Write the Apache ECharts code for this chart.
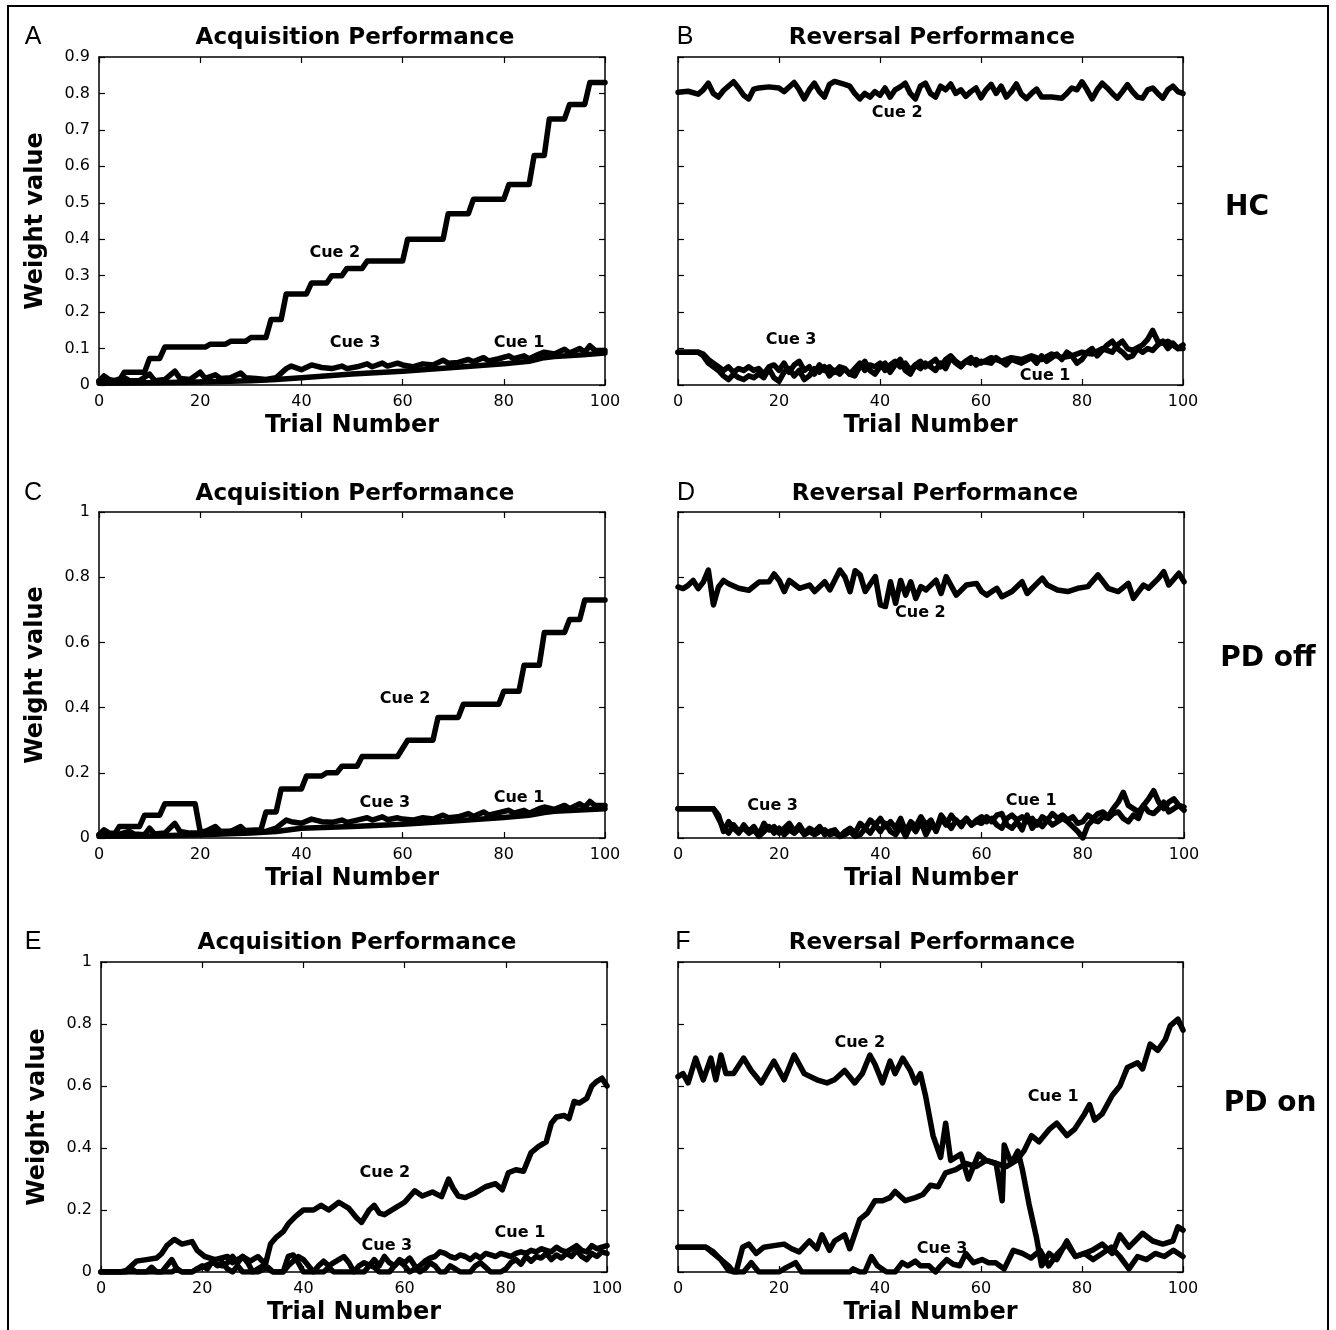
<!DOCTYPE html>
<html><head><meta charset="utf-8">
<script src="https://cdn.jsdelivr.net/npm/echarts@6/dist/echarts.min.js"></script>
<style>html,body{margin:0;padding:0;background:#fff}#c{width:1336px;height:1330px}</style>
</head><body><div id="c"></div>
<script>
// ---------- data (trial number, weight value) ----------
const trialTicks = [0, 20, 40, 60, 80, 100];
const cueNames = ['Cue 1', 'Cue 2', 'Cue 3'];

// Panel A – HC acquisition
const A_cue1 = [[0,0.005],[10,0.006],[20,0.008],[30,0.012],[35,0.015],[40,0.02],[50,0.03],[60,0.038],[70,0.048],[80,0.058],[85,0.065],[88,0.075],[90,0.078],[95,0.082],[100,0.088]];
const A_cue2 = [[0,0.012],[4,0.012],[5,0.035],[9,0.035],[10,0.073],[12,0.073],[13,0.104],[21,0.104],[22,0.112],[25,0.112],[26,0.12],[29,0.12],[30,0.13],[33,0.13],[34,0.18],[36,0.18],[37,0.25],[41,0.25],[42,0.28],[45,0.28],[46,0.30],[48,0.30],[49,0.32],[52,0.32],[53,0.34],[60,0.34],[61,0.40],[68,0.40],[69,0.47],[73,0.47],[74,0.51],[80,0.51],[81,0.55],[85,0.55],[86,0.63],[88,0.63],[89,0.73],[92,0.73],[93,0.77],[96,0.77],[97,0.83],[100,0.83]];
const A_cue3 = [[0,0.01],[1,0.025],[2,0.015],[3,0.012],[5,0.02],[6,0.012],[8,0.012],[10,0.03],[11,0.012],[13,0.015],[15,0.038],[16,0.018],[18,0.015],[20,0.035],[21,0.018],[23,0.028],[24,0.018],[26,0.02],[28,0.033],[29,0.02],[31,0.018],[33,0.015],[35,0.02],[37,0.045],[38,0.052],[40,0.042],[42,0.055],[44,0.048],[46,0.045],[48,0.052],[49,0.045],[51,0.05],[53,0.058],[54,0.05],[56,0.06],[57,0.052],[59,0.06],[60,0.055],[62,0.05],[64,0.058],[66,0.055],[68,0.068],[69,0.06],[71,0.062],[73,0.07],[74,0.064],[76,0.075],[77,0.066],[79,0.072],[81,0.08],[82,0.072],[84,0.08],[85,0.072],[87,0.085],[88,0.09],[90,0.085],[92,0.098],[93,0.088],[95,0.1],[96,0.09],[97,0.108],[98,0.095],[100,0.095]];

// Panel B – HC reversal
const B_cue1 = [[0,0.09],[4,0.09],[5,0.08],[6,0.06],[8,0.04],[9,0.025],[10,0.015],[11,0.03],[12,0.02],[13,0.015],[14,0.025],[15,0.02],[16,0.03],[17,0.02],[18,0.045],[19,0.02],[20,0.01],[21,0.035],[22,0.045],[23,0.025],[24,0.04],[25,0.015],[26,0.025],[27,0.045],[28,0.035],[29,0.05],[30,0.025],[31,0.04],[32,0.03],[33,0.045],[34,0.03],[35,0.025],[36,0.05],[37,0.065],[38,0.04],[39,0.03],[40,0.05],[41,0.06],[42,0.035],[43,0.055],[44,0.07],[45,0.04],[46,0.03],[47,0.055],[48,0.045],[49,0.06],[50,0.05],[51,0.04],[52,0.06],[53,0.045],[54,0.075],[55,0.06],[56,0.05],[57,0.065],[58,0.075],[59,0.055],[60,0.065],[62,0.06],[63,0.075],[65,0.055],[66,0.07],[68,0.06],[70,0.075],[71,0.06],[72,0.08],[73,0.065],[74,0.075],[75,0.085],[76,0.07],[77,0.09],[78,0.08],[79,0.06],[80,0.07],[81,0.09],[82,0.1],[83,0.08],[84,0.095],[85,0.11],[86,0.12],[87,0.1],[88,0.09],[89,0.075],[90,0.08],[91,0.1],[92,0.09],[93,0.1],[94,0.095],[95,0.11],[96,0.12],[97,0.1],[98,0.115],[99,0.1],[100,0.11]];
const B_cue2 = [[0,0.803],[2,0.806],[4,0.798],[5,0.81],[6,0.828],[7,0.80],[8,0.79],[9,0.808],[11,0.832],[12,0.815],[13,0.795],[14,0.785],[15,0.812],[16,0.815],[18,0.818],[20,0.815],[21,0.805],[23,0.83],[24,0.81],[25,0.785],[26,0.81],[27,0.828],[28,0.805],[29,0.79],[30,0.825],[31,0.833],[33,0.825],[34,0.82],[35,0.8],[36,0.785],[37,0.8],[38,0.79],[39,0.805],[40,0.795],[41,0.815],[42,0.79],[43,0.81],[44,0.818],[45,0.828],[46,0.8],[47,0.785],[48,0.82],[49,0.828],[50,0.8],[51,0.79],[52,0.82],[53,0.81],[54,0.826],[55,0.8],[56,0.81],[57,0.792],[58,0.805],[59,0.815],[60,0.788],[61,0.81],[62,0.825],[63,0.8],[64,0.82],[65,0.79],[66,0.805],[67,0.826],[68,0.798],[69,0.786],[70,0.8],[71,0.812],[72,0.79],[74,0.79],[76,0.787],[77,0.8],[78,0.815],[79,0.81],[80,0.832],[81,0.81],[82,0.785],[83,0.81],[84,0.828],[85,0.815],[86,0.8],[87,0.787],[88,0.805],[89,0.824],[90,0.805],[91,0.79],[92,0.787],[93,0.81],[94,0.815],[95,0.8],[96,0.787],[97,0.81],[98,0.82],[99,0.805],[100,0.8]];
const B_cue3 = [[0,0.09],[4,0.09],[5,0.085],[6,0.07],[7,0.06],[8,0.05],[9,0.04],[10,0.05],[11,0.035],[12,0.045],[13,0.04],[14,0.05],[15,0.04],[16,0.045],[17,0.03],[18,0.05],[19,0.055],[20,0.04],[21,0.06],[22,0.035],[23,0.055],[24,0.065],[25,0.04],[26,0.05],[27,0.03],[28,0.055],[29,0.04],[30,0.05],[31,0.035],[32,0.05],[33,0.045],[34,0.03],[35,0.045],[36,0.06],[37,0.04],[38,0.055],[39,0.05],[40,0.06],[41,0.04],[42,0.055],[43,0.065],[44,0.05],[45,0.06],[46,0.04],[47,0.055],[48,0.065],[49,0.05],[50,0.06],[51,0.07],[52,0.05],[53,0.07],[54,0.08],[55,0.065],[56,0.055],[57,0.065],[58,0.06],[59,0.07],[60,0.06],[62,0.075],[64,0.065],[66,0.075],[68,0.07],[70,0.08],[72,0.07],[74,0.085],[76,0.075],[78,0.08],[80,0.09],[82,0.085],[84,0.1],[86,0.09],[87,0.11],[88,0.12],[89,0.1],[90,0.095],[92,0.11],[93,0.125],[94,0.15],[95,0.12],[96,0.115],[97,0.12],[98,0.11],[99,0.1],[100,0.1]];

// Panel C – PD off acquisition
const C_cue1 = [[0,0.005],[10,0.006],[20,0.01],[30,0.015],[35,0.02],[40,0.03],[50,0.035],[60,0.042],[70,0.052],[80,0.063],[85,0.07],[88,0.078],[90,0.082],[95,0.086],[100,0.09]];
const C_cue2 = [[0,0.01],[3,0.01],[4,0.035],[8,0.035],[9,0.07],[12,0.07],[13,0.105],[19,0.105],[20,0.02],[25,0.02],[32,0.025],[33,0.08],[35,0.08],[36,0.15],[40,0.15],[41,0.19],[44,0.19],[45,0.20],[47,0.20],[48,0.22],[51,0.22],[52,0.25],[59,0.25],[61,0.30],[66,0.30],[67,0.37],[71,0.37],[72,0.41],[79,0.41],[80,0.45],[83,0.45],[84,0.53],[87,0.53],[88,0.63],[92,0.63],[93,0.67],[95,0.67],[96,0.73],[100,0.73]];
const C_cue3 = [[0,0.01],[1,0.025],[2,0.015],[4,0.012],[6,0.02],[7,0.012],[9,0.01],[10,0.03],[11,0.012],[13,0.015],[15,0.045],[16,0.02],[18,0.015],[20,0.015],[21,0.02],[23,0.035],[24,0.02],[26,0.02],[28,0.035],[29,0.02],[31,0.02],[33,0.02],[35,0.03],[37,0.055],[38,0.05],[40,0.045],[42,0.058],[44,0.05],[46,0.048],[48,0.055],[49,0.048],[51,0.055],[53,0.062],[54,0.055],[56,0.065],[57,0.056],[59,0.062],[60,0.058],[62,0.055],[64,0.062],[66,0.058],[68,0.07],[69,0.062],[71,0.065],[73,0.075],[74,0.066],[76,0.08],[77,0.07],[79,0.078],[81,0.085],[82,0.076],[84,0.085],[85,0.076],[87,0.09],[88,0.095],[90,0.088],[92,0.1],[93,0.09],[95,0.105],[96,0.095],[97,0.112],[98,0.1],[100,0.1]];

// Panel D – PD off reversal
const D_cue1 = [[0,0.09],[7,0.09],[8,0.06],[9,0.03],[10,0.015],[11,0.04],[12,0.02],[13,0.03],[14,0.015],[15,0.025],[16,0.005],[17,0.02],[18,0.035],[19,0.015],[20,0.03],[21,0.01],[22,0.025],[23,0.015],[24,0.03],[25,0.01],[26,0.02],[27,0.01],[28,0.02],[29,0.025],[30,0.01],[31,0.015],[32,0.005],[33,0.01],[34,0.02],[35,0.005],[36,0.01],[37,0.03],[38,0.015],[39,0.04],[40,0.02],[41,0.045],[42,0.02],[43,0.01],[44,0.035],[45,0.005],[46,0.04],[47,0.02],[48,0.05],[49,0.01],[50,0.04],[51,0.025],[52,0.07],[53,0.05],[54,0.03],[55,0.055],[56,0.035],[57,0.06],[58,0.04],[59,0.05],[60,0.045],[61,0.065],[62,0.05],[63,0.07],[64,0.075],[65,0.04],[66,0.03],[67,0.05],[68,0.025],[69,0.07],[70,0.03],[71,0.05],[72,0.035],[73,0.055],[74,0.04],[75,0.05],[76,0.06],[77,0.05],[78,0.035],[79,0.02],[80,0.0],[81,0.04],[82,0.055],[83,0.05],[84,0.065],[85,0.06],[86,0.075],[87,0.08],[88,0.06],[89,0.05],[90,0.07],[91,0.06],[92,0.1],[93,0.08],[94,0.075],[95,0.09],[96,0.11],[97,0.08],[98,0.09],[99,0.1],[100,0.085]];
const D_cue2 = [[0,0.77],[1,0.765],[2,0.775],[3,0.79],[4,0.765],[5,0.785],[6,0.822],[7,0.715],[8,0.77],[9,0.79],[10,0.78],[12,0.766],[14,0.76],[16,0.785],[18,0.786],[19,0.81],[20,0.79],[21,0.756],[22,0.79],[24,0.766],[26,0.776],[27,0.756],[29,0.786],[30,0.761],[32,0.822],[33,0.80],[34,0.756],[35,0.82],[36,0.807],[37,0.756],[39,0.802],[40,0.715],[41,0.71],[42,0.786],[43,0.72],[44,0.79],[45,0.745],[46,0.786],[47,0.735],[48,0.771],[49,0.761],[51,0.791],[52,0.75],[53,0.802],[55,0.745],[57,0.776],[59,0.781],[60,0.756],[61,0.745],[63,0.766],[64,0.74],[66,0.756],[68,0.786],[69,0.75],[70,0.766],[72,0.797],[73,0.776],[75,0.761],[77,0.756],[79,0.766],[81,0.771],[83,0.807],[85,0.766],[87,0.756],[89,0.781],[90,0.735],[92,0.776],[93,0.766],[95,0.797],[96,0.817],[97,0.776],[99,0.812],[100,0.786]];
const D_cue3 = [[0,0.09],[7,0.09],[8,0.07],[9,0.02],[10,0.05],[11,0.03],[12,0.015],[13,0.04],[14,0.02],[15,0.035],[16,0.01],[17,0.045],[18,0.025],[19,0.035],[20,0.015],[21,0.03],[22,0.045],[23,0.02],[24,0.04],[25,0.015],[26,0.03],[27,0.02],[28,0.035],[29,0.01],[30,0.02],[31,0.025],[32,0.005],[33,0.02],[34,0.03],[35,0.015],[36,0.045],[37,0.03],[38,0.055],[39,0.04],[40,0.06],[41,0.035],[42,0.05],[43,0.03],[44,0.06],[45,0.02],[46,0.05],[47,0.035],[48,0.065],[49,0.04],[50,0.055],[51,0.02],[52,0.06],[53,0.04],[54,0.07],[55,0.05],[56,0.045],[57,0.06],[58,0.04],[59,0.055],[60,0.065],[61,0.05],[62,0.06],[63,0.04],[64,0.03],[65,0.06],[66,0.07],[67,0.055],[68,0.065],[69,0.05],[70,0.06],[71,0.04],[72,0.065],[73,0.055],[74,0.075],[75,0.06],[76,0.07],[77,0.055],[78,0.065],[79,0.045],[80,0.05],[81,0.07],[82,0.06],[83,0.075],[84,0.08],[85,0.065],[86,0.09],[87,0.11],[88,0.14],[89,0.1],[90,0.09],[91,0.08],[92,0.1],[93,0.12],[94,0.145],[95,0.11],[96,0.09],[97,0.11],[98,0.12],[99,0.1],[100,0.095]];

// Panel E – PD on acquisition
const E_cue1 = [[0,0],[5,0],[6,0.01],[7,0],[9,0],[10,0.015],[11,0],[14,0],[15,0.01],[16,0],[18,0],[19,0.01],[20,0.015],[22,0.03],[24,0.02],[25,0.03],[26,0.05],[27,0.03],[28,0.05],[29,0.03],[30,0],[31,0],[33,0.015],[34,0],[36,0],[37,0.02],[39,0.05],[40,0.04],[41,0.02],[42,0],[44,0],[45,0.015],[46,0],[50,0],[51,0.02],[52,0.03],[54,0.015],[55,0],[57,0],[58,0.02],[59,0.035],[60,0.02],[61,0],[63,0.02],[64,0.035],[65,0.045],[66,0.05],[67,0.065],[68,0.06],[69,0.05],[70,0.045],[71,0.055],[72,0.05],[73,0.04],[74,0.055],[75,0.045],[76,0.06],[77,0.055],[78,0.05],[79,0.06],[80,0.055],[81,0.05],[82,0.06],[83,0.065],[84,0.06],[85,0.07],[86,0.065],[87,0.075],[88,0.07],[89,0.065],[90,0.08],[91,0.07],[92,0.065],[93,0.075],[94,0.085],[95,0.07],[96,0.065],[97,0.085],[98,0.075],[99,0.08],[100,0.085]];
const E_cue2 = [[0,0],[4,0],[5,0.005],[7,0.035],[9,0.04],[11,0.045],[12,0.06],[13,0.085],[14.5,0.105],[16,0.09],[18,0.098],[19,0.07],[20.5,0.05],[22.5,0.04],[25,0.05],[26,0.03],[28,0.05],[29.5,0.035],[31,0.05],[32.5,0.025],[33.5,0.09],[34.5,0.11],[36,0.13],[37,0.155],[38.5,0.18],[40,0.2],[42,0.2],[43.5,0.215],[45,0.2],[47,0.225],[49,0.205],[50.5,0.175],[51.5,0.16],[53,0.2],[54,0.215],[55,0.19],[56,0.185],[58,0.205],[60,0.225],[62,0.262],[63.5,0.245],[65.5,0.258],[67.3,0.243],[68.7,0.3],[69.6,0.27],[70.6,0.245],[72,0.24],[74,0.255],[76,0.275],[78,0.285],[79.3,0.265],[80.5,0.32],[82,0.33],[83.5,0.325],[85,0.385],[86.5,0.405],[88,0.42],[89,0.48],[90,0.5],[91.5,0.505],[92.5,0.495],[93.5,0.55],[94.5,0.545],[96,0.56],[97,0.6],[98,0.615],[99,0.625],[100,0.6]];
const E_cue3 = [[0,0],[12,0],[13,0.02],[14,0.04],[15,0.01],[16,0],[18,0],[19,0.01],[20,0.02],[21,0.01],[22,0.035],[23,0.02],[24,0.03],[25,0.01],[26,0],[27,0.02],[28,0],[30,0],[31,0.01],[32,0.02],[33,0.01],[34,0],[36,0],[37,0.05],[38,0.055],[39,0.03],[40,0],[42,0],[43,0.02],[44,0.035],[45,0.02],[46,0.03],[47,0.04],[48,0.05],[49,0.03],[50,0],[52,0],[53,0.02],[54,0.04],[55,0.02],[56,0.05],[57,0.03],[58,0.02],[59,0.04],[60,0.03],[61,0.045],[62,0.02],[63,0],[64,0.01],[65,0.03],[66,0.02],[67,0],[68,0],[69,0.02],[70,0.01],[71,0],[73,0],[74,0.02],[75,0.03],[76,0.015],[77,0],[79,0],[80,0.01],[81,0.03],[82,0.04],[83,0.025],[84,0.05],[85,0.035],[86,0.05],[87,0.045],[88,0.06],[89,0.04],[90,0.055],[91,0.045],[92,0.06],[93,0.05],[94,0.07],[95,0.05],[96,0.04],[97,0.06],[98,0.05],[99,0.065],[100,0.06]];

// Panel F – PD on reversal
const F_cue1 = [[0,0.08],[5.5,0.08],[7,0.06],[8.5,0.04],[10,0.005],[11.5,0],[12.8,0.08],[14,0.09],[15.5,0.06],[17,0.08],[19,0.085],[21,0.09],[22.5,0.075],[24,0.065],[26,0.10],[27.5,0.075],[28.5,0.12],[30,0.07],[31,0.10],[33,0.12],[34,0.075],[36,0.17],[37.5,0.19],[39,0.23],[40.5,0.23],[42,0.24],[43,0.26],[45,0.23],[47,0.24],[48.5,0.25],[50,0.28],[51.5,0.275],[53,0.32],[55,0.33],[57,0.35],[59,0.34],[61,0.36],[63,0.35],[65,0.34],[67,0.36],[68.5,0.39],[70,0.44],[71.5,0.42],[73.5,0.46],[75,0.48],[77,0.44],[78.5,0.46],[80.5,0.51],[81.5,0.54],[82.5,0.49],[84,0.51],[86,0.57],[87.5,0.60],[89,0.66],[91,0.675],[92,0.655],[93.5,0.735],[95,0.715],[96.5,0.75],[97.5,0.795],[99,0.816],[100,0.78]];
const F_cue2 = [[0,0.63],[1,0.64],[2,0.61],[3.5,0.69],[5,0.62],[6.5,0.69],[7.5,0.62],[8.5,0.70],[9.5,0.64],[11,0.64],[13,0.69],[14.5,0.65],[16.5,0.61],[19,0.68],[21,0.62],[23,0.70],[25,0.64],[27.5,0.62],[29.5,0.61],[31,0.62],[33,0.65],[35,0.61],[36.5,0.64],[38,0.70],[39,0.67],[40.5,0.61],[42,0.68],[43,0.64],[44.5,0.69],[46,0.65],[47,0.61],[48,0.64],[49,0.57],[50.5,0.44],[52,0.37],[53,0.48],[54,0.36],[56,0.38],[57.5,0.30],[59.5,0.38],[61,0.36],[63,0.35],[64.2,0.23],[64.6,0.41],[66,0.35],[67.3,0.39],[68.2,0.33],[69.5,0.22],[71,0.11],[72,0.02],[73.5,0.06],[75,0.04],[77,0.10],[78.7,0.05],[80.5,0.06],[82,0.07],[84,0.09],[86,0.06],[87.5,0.12],[89.3,0.08],[92,0.125],[94,0.10],[96,0.09],[98,0.10],[99,0.146],[100,0.135]];
const F_cue3 = [[0,0.08],[5.5,0.08],[7,0.065],[8.5,0.04],[10,0.02],[11,0],[13,0],[14.5,0.03],[16,0],[20,0],[21.5,0.015],[23.3,0.03],[24.5,0],[34,0],[34.7,0.01],[36,0],[37,0],[38.3,0.05],[39.5,0.02],[41.3,0],[43,0],[44.4,0.03],[45.5,0.02],[47,0.035],[48,0.02],[49.7,0.02],[51,0],[52,0.02],[53.2,0.04],[54.5,0.025],[55.8,0.02],[57,0.06],[58.5,0.03],[60.2,0.04],[61.5,0.03],[62.9,0.03],[64.6,0.01],[66.4,0.07],[68.2,0.06],[69.9,0.045],[71.7,0.07],[73.4,0.02],[75.2,0.06],[77,0.09],[78.7,0.05],[80.5,0.06],[82.2,0.04],[84,0.06],[85.8,0.08],[87.5,0.05],[89.3,0.01],[91,0.05],[92.8,0.04],[94.5,0.06],[96.3,0.05],[98.1,0.07],[100,0.05]];

// ---------- annotations (label anchor in data coords) ----------
const cueLabelAnchors = {
  A: [[83.0,0.115],[46.6,0.362],[50.6,0.115]],
  B: [[72.7,0.025],[43.4,0.746],[22.4,0.123]],
  C: [[83.0,0.123],[60.5,0.426],[56.5,0.107]],
  D: [[69.8,0.113],[47.9,0.69],[18.7,0.098]],
  E: [[82.8,0.126],[56.1,0.32],[56.5,0.084]],
  F: [[74.3,0.565],[36.0,0.739],[52.3,0.074]]
};
const panelTitles = ['Acquisition Performance','Reversal Performance'];
const rowLabels = ['HC','PD off','PD on'];

// ---------- layout ----------
const FONT = 'DejaVu Sans';
const panels = [
  {key:'A', grid:{left:99, top:57, width:506, height:328}, ymax:0.9, yint:0.1, left:true, data:[A_cue1,A_cue2,A_cue3], title:[355,38], letter:[33,37]},
  {key:'B', grid:{left:678, top:57, width:505, height:328}, ymax:0.9, yint:0.1, left:false, data:[B_cue1,B_cue2,B_cue3], title:[932,38], letter:[685,37]},
  {key:'C', grid:{left:99, top:512, width:506, height:326}, ymax:1, yint:0.2, left:true, data:[C_cue1,C_cue2,C_cue3], title:[355,494], letter:[33,493]},
  {key:'D', grid:{left:678, top:512, width:506, height:326}, ymax:1, yint:0.2, left:false, data:[D_cue1,D_cue2,D_cue3], title:[935,494], letter:[686,493]},
  {key:'E', grid:{left:101, top:962, width:506, height:310}, ymax:1, yint:0.2, left:true, data:[E_cue1,E_cue2,E_cue3], title:[357,943], letter:[33,942]},
  {key:'F', grid:{left:678, top:962, width:505, height:310}, ymax:1, yint:0.2, left:false, data:[F_cue1,F_cue2,F_cue3], title:[932,943], letter:[683,942]}
];
const rowLabelPos = [[1247,208],[1268,659],[1270,1104]];

const grids = [], xAxes = [], yAxes = [], series = [], graphics = [];
const axLine = {show:true, onZero:false, lineStyle:{color:'#000', width:1.5}};
const axTick = {show:true, inside:true, length:6, lineStyle:{color:'#000', width:1.2}};

panels.forEach((p, i) => {
  grids.push(Object.assign({containLabel:false, show:false}, p.grid));
  xAxes.push({gridIndex:i, type:'value', min:0, max:100, interval:20, position:'bottom',
    axisLine:axLine, axisTick:axTick, splitLine:{show:false},
    axisLabel:{color:'#000', fontSize:16, fontFamily:FONT, margin:9},
    name:'Trial Number', nameLocation:'middle', nameGap:29,
    nameTextStyle:{color:'#000', fontSize:24, fontWeight:'bold', fontFamily:FONT}});
  xAxes.push({gridIndex:i, type:'value', min:0, max:100, interval:20, position:'top',
    axisLine:axLine, axisTick:axTick, splitLine:{show:false}, axisLabel:{show:false}});
  const yl = {gridIndex:i, type:'value', min:0, max:p.ymax, interval:p.yint, position:'left',
    axisLine:axLine, axisTick:axTick, splitLine:{show:false},
    axisLabel:{show:p.left, color:'#000', fontSize:16, fontFamily:FONT, margin:9}};
  if (p.left) {
    Object.assign(yl, {name:'Weight value', nameLocation:'middle', nameGap:51,
      nameTextStyle:{color:'#000', fontSize:24, fontWeight:'bold', fontFamily:FONT}});
  }
  yAxes.push(yl);
  yAxes.push({gridIndex:i, type:'value', min:0, max:p.ymax, interval:p.yint, position:'right',
    axisLine:axLine, axisTick:axTick, splitLine:{show:false}, axisLabel:{show:false}});

  p.data.forEach((d, k) => {
    series.push({type:'line', name:p.key + ' ' + cueNames[k], xAxisIndex:2*i, yAxisIndex:2*i,
      data:d, showSymbol:false, symbol:'none', silent:true, z:2,
      lineStyle:{color:'#000', width:5.5, join:'round', cap:'round', opacity:1}});
  });
  series.push({type:'scatter', xAxisIndex:2*i, yAxisIndex:2*i, symbolSize:0, silent:true, z:5,
    itemStyle:{opacity:1, color:'#000'},
    data: cueLabelAnchors[p.key].map((v, k) => ({name:cueNames[k], value:v})),
    label:{show:true, position:'inside', formatter:'{b}', color:'#000', opacity:1, fontSize:16,
      fontWeight:'bold', fontFamily:FONT}});

  graphics.push({type:'text', x:p.title[0], y:p.title[1], style:{text:panelTitles[i % 2],
    fill:'#000', font:'bold 23px "' + FONT + '"', textAlign:'center', textVerticalAlign:'middle'}});
  graphics.push({type:'text', x:p.letter[0], y:p.letter[1], style:{text:p.key,
    fill:'#000', font:'25px "Liberation Sans"', textAlign:'center', textVerticalAlign:'middle'}});
});

rowLabels.forEach((t, r) => {
  graphics.push({type:'text', x:rowLabelPos[r][0], y:rowLabelPos[r][1], style:{text:t,
    fill:'#000', font:'bold 28px "' + FONT + '"', textAlign:'center', textVerticalAlign:'middle'}});
});
graphics.push({type:'rect', shape:{x:8, y:6, width:1320, height:1340},
  style:{fill:null, stroke:'#000', lineWidth:2}, silent:true});

const chart = echarts.init(document.getElementById('c'), null, {renderer:'canvas'});
chart.setOption({
  backgroundColor:'#fff', animation:false,
  grid:grids, xAxis:xAxes, yAxis:yAxes, series:series, graphic:graphics
});
</script>
</body></html>
